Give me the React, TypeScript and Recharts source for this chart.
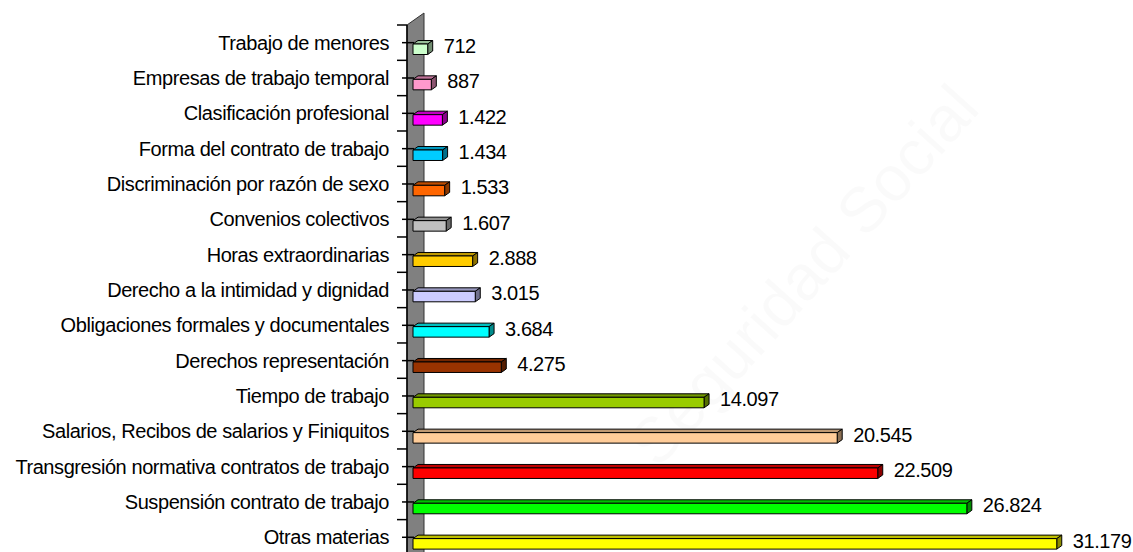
import React from 'react';
import { BarChart, Bar, XAxis, YAxis, LabelList } from 'recharts';

const CATEGORIES = [
  'Trabajo de menores',
  'Empresas de trabajo temporal',
  'Clasificación profesional',
  'Forma del contrato de trabajo',
  'Discriminación por razón de sexo',
  'Convenios colectivos',
  'Horas extraordinarias',
  'Derecho a la intimidad y dignidad',
  'Obligaciones formales y documentales',
  'Derechos representación',
  'Tiempo de trabajo',
  'Salarios, Recibos de salarios y Finiquitos',
  'Transgresión normativa contratos de trabajo',
  'Suspensión contrato de trabajo',
  'Otras materias',
];

const VALUES = [712, 887, 1422, 1434, 1533, 1607, 2888, 3015, 3684, 4275, 14097, 20545, 22509, 26824, 31179];

const COLORS = [
  '#ccffcc', '#ff99cc', '#ff00ff', '#00ccff', '#ff6600',
  '#c0c0c0', '#ffcc00', '#ccccff', '#00ffff', '#993300',
  '#99cc00', '#ffcc99', '#ff0000', '#00ff00', '#ffff00',
];

const data = CATEGORIES.map((name, i) => ({ name, value: VALUES[i], color: COLORS[i] }));

// layout
const W = 1133;
const H = 600;
const TOP = 25;
const BAND = 35.33;
const PLOT_H = BAND * CATEGORIES.length;
const LEFT = 413;
const PLOT_W = 702;
const AXIS_X = 407;
const FONT = '"Liberation Sans", Arial, sans-serif';
const FS = 20;
const LS = -0.42;

const fmt = (v: number) => String(v).replace(/\B(?=(\d{3})+(?!\d))/g, '.');

const shade = (hex: string, f: number) => {
  const n = parseInt(hex.slice(1), 16);
  const r = Math.round(((n >> 16) & 255) * f);
  const g = Math.round(((n >> 8) & 255) * f);
  const b = Math.round((n & 255) * f);
  return `rgb(${r},${g},${b})`;
};

// 3D-ish bar: front face, top face and end face
const Bar3D = (props: any) => {
  const { x, y, width, height, payload } = props;
  const cy = y + height / 2;
  const ft = cy + 1;
  const fh = 10.5;
  const dx = 5;
  const dy = 3.5;
  const x1 = x + width;
  const c = payload.color;
  return (
    <g stroke="#000" strokeWidth={1} strokeLinejoin="round">
      <polygon
        points={`${x},${ft} ${x + dx},${ft - dy} ${x1 + dx},${ft - dy} ${x1},${ft}`}
        fill={shade(c, 0.75)}
      />
      <polygon
        points={`${x1},${ft} ${x1 + dx},${ft - dy} ${x1 + dx},${ft + fh - dy} ${x1},${ft + fh}`}
        fill={shade(c, 0.55)}
      />
      <rect x={x} y={ft} width={width} height={fh} fill={c} />
    </g>
  );
};

const CategoryTick = (props: any) => {
  const { y, payload } = props;
  return (
    <g>
      <line x1={402} x2={414} y1={y} y2={y} stroke="#000" strokeWidth={1.5} />
      <text
        x={389}
        y={y + 7}
        textAnchor="end"
        fontFamily={FONT}
        fontSize={FS}
        letterSpacing={LS}
        fill="#000"
      >
        {payload.value}
      </text>
    </g>
  );
};

const ValueLabel = (props: any) => {
  const { x, y, width, height, value } = props;
  return (
    <text
      x={x + width + 16}
      y={y + height / 2 + 10}
      fontFamily={FONT}
      fontSize={FS}
      letterSpacing={LS}
      fill="#000"
    >
      {fmt(value)}
    </text>
  );
};

const Wall = () => {
  const bottom = TOP + PLOT_H;
  const ticks = Array.from({ length: CATEGORIES.length + 1 }, (_, k) => TOP + k * BAND);
  return (
    <svg width={W} height={H} style={{ position: 'absolute', left: 0, top: 0 }}>
      <text
        x={820}
        y={290}
        textAnchor="middle"
        fontFamily={FONT}
        fontSize={64}
        fill="#000"
        fillOpacity={0.018}
        transform="rotate(-48 820 290)"
      >
        Seguridad Social
      </text>
      <polygon
        points={`${AXIS_X},${TOP} ${AXIS_X + 17},${TOP - 12} ${AXIS_X + 17},${bottom} ${AXIS_X},${bottom}`}
        fill="#808080"
        stroke="#333"
        strokeWidth={1}
      />
      <line x1={AXIS_X} x2={AXIS_X} y1={TOP} y2={bottom} stroke="#000" strokeWidth={1.5} />
      {ticks.map((t) => (
        <line key={t} x1={397} x2={AXIS_X} y1={t} y2={t} stroke="#000" strokeWidth={1.5} />
      ))}
    </svg>
  );
};

export default function App() {
  return (
    <div
      style={{
        position: 'fixed',
        left: 0,
        top: 0,
        width: W,
        height: 552,
        overflow: 'hidden',
        background: '#fff',
      }}
    >
      <Wall />
      <div style={{ position: 'absolute', left: 0, top: 0 }}>
        <BarChart
          width={W}
          height={H}
          data={data}
          layout="vertical"
          margin={{ top: TOP, left: 8, right: W - LEFT - PLOT_W, bottom: H - TOP - PLOT_H }}
          barCategoryGap={0}
        >
          <XAxis type="number" domain={[0, 34000]} hide />
          <YAxis
            type="category"
            dataKey="name"
            width={LEFT - 8}
            axisLine={false}
            tickLine={false}
            interval={0}
            tick={<CategoryTick />}
          />
          <Bar dataKey="value" barSize={14} shape={<Bar3D />} isAnimationActive={false}>
            <LabelList dataKey="value" content={<ValueLabel />} />
          </Bar>
        </BarChart>
      </div>
    </div>
  );
}
